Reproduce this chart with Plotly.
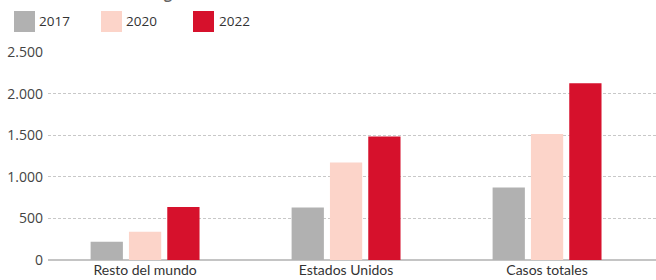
import plotly.graph_objects as go

categories = ["Resto del mundo", "Estados Unidos", "Casos totales"]
years = ["2017", "2020", "2022"]
values_2017 = [218, 630, 870]
values_2020 = [340, 1172, 1515]
values_2022 = [637, 1485, 2125]
tick_vals = [0, 500, 1000, 1500, 2000, 2500]
tick_text = ["0", "500", "1.000", "1.500", "2.000", "2.500"]
colors = ["#b1b1b1", "#fcd4c9", "#d6112c"]

W, H = 656, 280
L, R, T, B = 48, 0, 52, 20
pw, ph = W - L - R, H - T - B

def px(x):
    return (x - L) / pw

def py(y):
    return (H - B - y) / ph

fig = go.Figure()
for name, vals, c in zip(years, [values_2017, values_2020, values_2022], colors):
    fig.add_trace(go.Bar(x=categories, y=vals, name=name, marker=dict(color=c, line=dict(width=0)),
                         showlegend=False))

shapes = []
annotations = []
legend_pos = [(14, 37), (101, 124), (193, 217)]
for (sx, tx), name, c in zip(legend_pos, years, colors):
    shapes.append(dict(type="rect", xref="paper", yref="paper", x0=px(sx), x1=px(sx + 21),
                       y0=py(32), y1=py(11), fillcolor=c, line=dict(width=0)))
    annotations.append(dict(xref="paper", yref="paper", x=px(tx), y=py(21.5), text=name,
                            showarrow=False, xanchor="left", yanchor="middle",
                            font=dict(family="Open Sans", size=13.5, color="#333333")))

annotations.append(dict(xref="paper", yref="paper", x=px(10), y=py(5), text="<b>Crecimiento de los litigios sobre el cambio climático</b>",
                        showarrow=False, xanchor="left", yanchor="bottom",
                        font=dict(family="Open Sans", size=14, color="#666666")))

fig.update_layout(
    width=W, height=H,
    margin=dict(l=L, r=R, t=T, b=B, pad=0, autoexpand=False),
    paper_bgcolor="white", plot_bgcolor="white",
    barmode="group", bargap=0.428, bargroupgap=0.158,
    shapes=shapes, annotations=annotations,
    xaxis=dict(range=[-0.483, 2.542], showgrid=False, showline=False, ticks="", automargin=False,
               ticklabelstandoff=0,
               tickfont=dict(family="Lato", size=14, color="#333333"), fixedrange=True),
    yaxis=dict(range=[0, 2500], tickvals=tick_vals, ticktext=tick_text, automargin=False,
               showgrid=True, gridcolor="#c8c8c8", griddash="3px,2px", gridwidth=1,
               zeroline=True, zerolinecolor="#c4c4c4", zerolinewidth=1.5,
               showline=False, ticks="", ticklabelstandoff=4,
               tickfont=dict(family="Open Sans", size=14, color="#444444"), fixedrange=True),
)

fig.write_html("out.html", config={"displayModeBar": False},
               post_script="document.body.style.margin='0';document.body.style.overflow='hidden';")
